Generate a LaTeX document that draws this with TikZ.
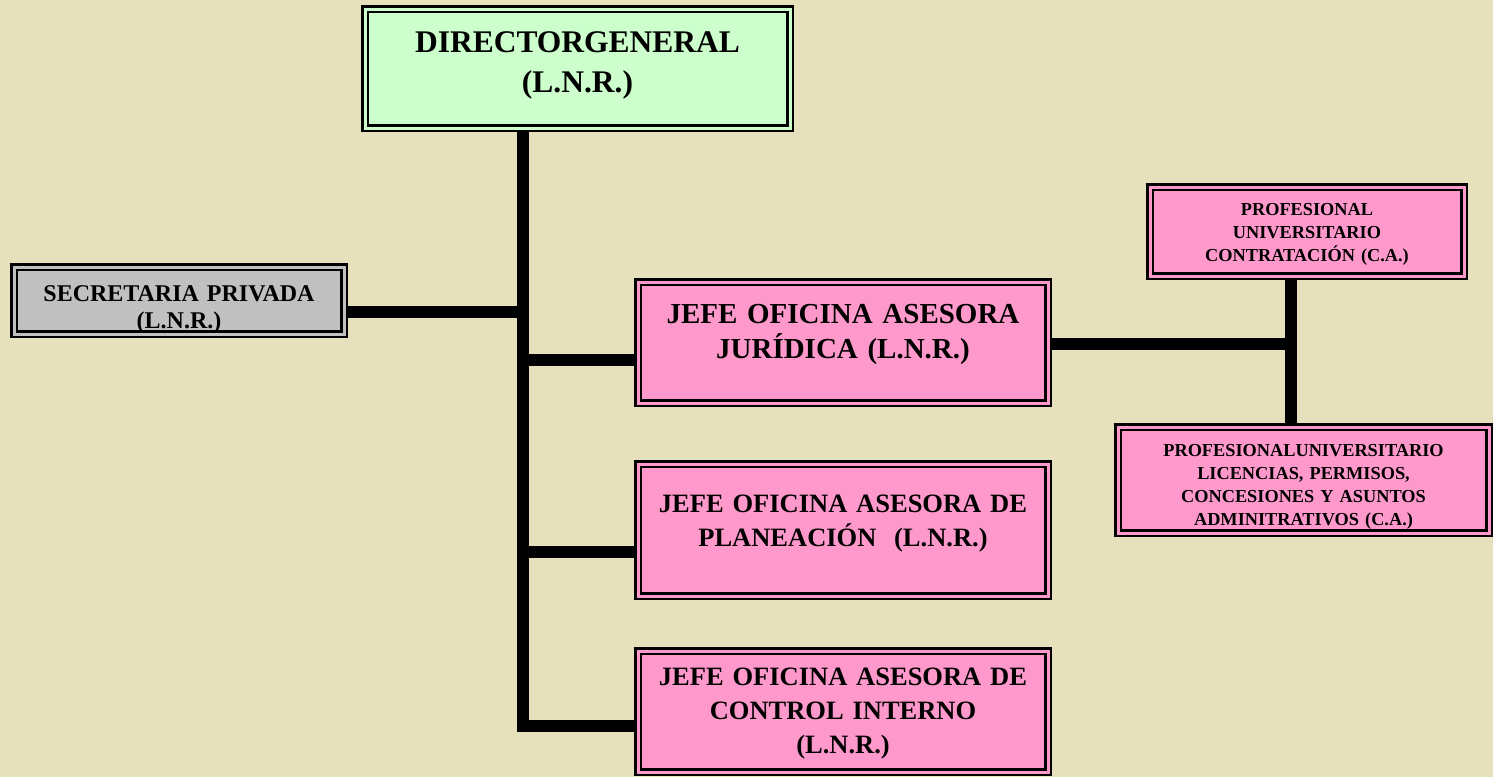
\documentclass[tikz,border=0pt]{standalone}
\usepackage{fontspec}
\setmainfont{Liberation Serif}
\definecolor{papel}{RGB}{230,224,188}
\definecolor{rosa}{RGB}{255,153,204}
\definecolor{verde}{RGB}{204,255,204}
\definecolor{gris}{RGB}{192,192,192}
\tikzset{
    cargo/.style={draw=black, line width=2.5pt, double distance=3pt, outer sep=4pt,
        inner sep=0pt, anchor=north west, align=center},
    jefe/.style={cargo, fill=rosa, double=rosa, text width=410pt,
        font=\bfseries\fontsize{26.5}{34}\selectfont},
    prof/.style={cargo, fill=rosa, double=rosa,
        font=\bfseries\fontsize{18.3}{23}\selectfont},
    enlace/.style={line width=12pt, black},
}
\begin{document}
\begin{tikzpicture}[x=1pt, y=-1pt]
    \fill[papel] (0,0) rectangle (1493,777);
    \useasboundingbox (0,0) rectangle (1493,777);
    % cargos
    \node[cargo, fill=verde, double=verde, text width=425pt, text height=43pt, text depth=76pt,
        font=\bfseries\fontsize{31.5}{40}\selectfont] (dir) at (361,5) {DIRECTORGENERAL\\(L.N.R.)};
    \node[cargo, fill=gris, double=gris, text width=330pt, text height=34pt, text depth=33pt,
        font=\bfseries\fontsize{24}{27}\selectfont] (sec) at (10,263) {SECRETARIA PRIVADA\\(L.N.R.)};
    \node[jefe, text height=41pt, text depth=80pt,
        font=\bfseries\fontsize{29}{35}\selectfont] (jur) at (634,278) {JEFE OFICINA ASESORA\\JURÍDICA (L.N.R.)};
    \node[jefe, text height=48pt, text depth=84pt] (pla) at (634,460) {JEFE OFICINA ASESORA DE\\PLANEACIÓN~~(L.N.R.)};
    \node[jefe, text height=34pt, text depth=87pt] (ctl) at (634,647) {JEFE OFICINA ASESORA DE\\CONTROL INTERNO\\(L.N.R.)};
    \node[prof, text width=314pt, text height=28.7pt, text depth=60.3pt] (con) at (1146,183)
        {PROFESIONAL\\UNIVERSITARIO\\CONTRATACIÓN (C.A.)};
    \node[prof, text width=371pt, text height=29pt, text depth=77pt] (lic) at (1114,423)
        {PROFESIONALUNIVERSITARIO\\LICENCIAS, PERMISOS,\\CONCESIONES Y ASUNTOS\\ADMINITRATIVOS (C.A.)};
    % lineas
    \coordinate (tronco) at (523,726);
    \coordinate (jsec) at (523,311.5);
    \coordinate (jjur) at (523,360);
    \coordinate (jpla) at (523,551.5);
    \coordinate (jder) at (1291,344);
    \draw[enlace] (dir.south -| tronco) -- (tronco) -- (ctl.west |- tronco);
    \draw[enlace] (sec.east |- jsec) -- (jsec);
    \draw[enlace] (jjur) -- (jur.west |- jjur);
    \draw[enlace] (jpla) -- (pla.west |- jpla);
    \draw[enlace] (jur.east |- jder) -- (jder);
    \draw[enlace] (con.south -| jder) -- (lic.north -| jder);
\end{tikzpicture}
\end{document}
